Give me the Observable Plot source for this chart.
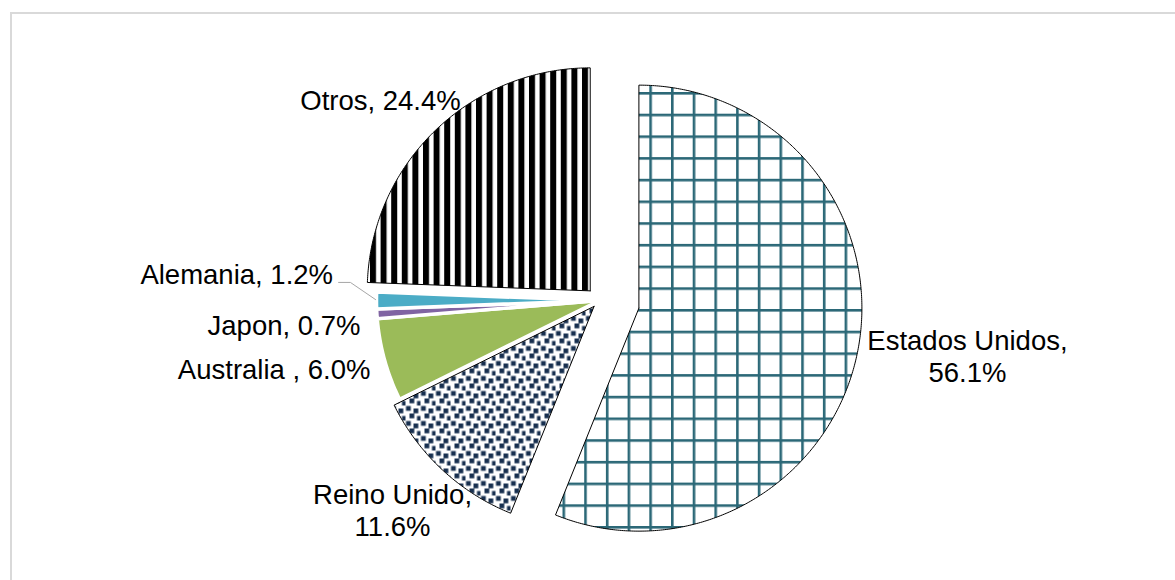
<!DOCTYPE html>
<html><head><meta charset="utf-8">
<script src="https://cdn.jsdelivr.net/npm/d3@7"></script>
<script src="https://cdn.jsdelivr.net/npm/@observablehq/plot@0.6"></script>
<style>
html,body{margin:0;padding:0;background:#fff;overflow:hidden}
#wrap{position:relative;width:1175px;height:580px}
#chart{position:absolute;left:0;top:0}
#frame{position:absolute;left:10px;top:12px;width:1220px;height:620px;border:2px solid #d9d9d9;box-sizing:border-box;pointer-events:none;z-index:2}
</style></head><body>
<div id="wrap"><div id="chart"></div><div id="frame"></div></div>
<script>
// ---- data ----
const countries = ["Estados Unidos", "Reino Unido", "Australia ", "Japon", "Alemania", "Otros"];
const shares = [56.1, 11.6, 6.0, 0.7, 1.2, 24.4];

// ---- layout / style (not data) ----
const CX = 599, CY = 300, R = 223;
const explode = [0.18, 0.036, 0, 0, 0, 0.06];
const fills = ["url(#usGrid)", "url(#ukConfetti)", "#9bbb59", "#8064a2", "#4bacc6", "url(#otrosStripes)"];
const strokes = ["#000", "#000", "#fff", "#fff", "#fff", "#000"];
const strokeWidths = [1, 1, 3.5, 3.5, 3.5, 1];
const multiLine = [true, true, false, false, false, false];
const labelX = [1.65, -0.928, -1.027, -1.072, -1.195, -0.982];
const labelY = [-0.248, -0.938, -0.304, -0.110, 0.119, 0.902];
const labelAnchor = ["middle", "middle", "end", "end", "end", "middle"];
const leader = [{x: -1.170, y: 0.081}, {x: -1.117, y: 0.081}, {x: -1.004, y: 0.004}];
const FS = 27.5;

const arcs = d3.pie().sort(null).value(d => d)(shares);
const slices = arcs.map((a, i) => {
  const mid = (a.startAngle + a.endAngle) / 2;
  const ox = explode[i] * Math.sin(mid), oy = explode[i] * Math.cos(mid);
  const pts = [{x: ox, y: oy}];
  const n = Math.max(2, Math.ceil((a.endAngle - a.startAngle) / (Math.PI / 360)));
  for (let k = 0; k <= n; k++) {
    const t = a.startAngle + (a.endAngle - a.startAngle) * k / n;
    pts.push({x: ox + Math.sin(t), y: oy + Math.cos(t)});
  }
  pts.push({x: ox, y: oy});
  return pts;
});

const labels = countries.map((c, i) => ({
  x: labelX[i], y: labelY[i], anchor: labelAnchor[i],
  text: c + (multiLine[i] ? ",\n" : ", ") + shares[i].toFixed(1) + "%"
}));

const drawOrder = [2, 3, 4, 1, 5, 0];
const marks = drawOrder.map(i => Plot.line(slices[i], {
  x: "x", y: "y", fill: fills[i], stroke: strokes[i], strokeWidth: strokeWidths[i],
  strokeLinejoin: "miter", strokeMiterlimit: 2, curve: "linear"
}));
marks.push(Plot.line(leader, {x: "x", y: "y", stroke: "#a6a6a6", strokeWidth: 1, curve: "linear"}));
marks.push(Plot.text(labels.filter(d => d.anchor === "middle"), {x: "x", y: "y", text: "text", textAnchor: "middle", fontSize: FS, lineHeight: 32 / FS, fill: "#000"}));
marks.push(Plot.text(labels.filter(d => d.anchor === "end"), {x: "x", y: "y", text: "text", textAnchor: "end", fontSize: FS, lineHeight: 32 / FS, fill: "#000"}));

const svg = Plot.plot({
  width: 1175, height: 580,
  marginTop: 0, marginRight: 0, marginBottom: 0, marginLeft: 0,
  x: {domain: [-1, 1], range: [CX - R, CX + R], axis: null},
  y: {domain: [-1, 1], range: [CY + R, CY - R], axis: null},
  style: {fontFamily: "'Liberation Sans', Arial, sans-serif", background: "transparent"},
  marks
});

const defs = d3.select(svg).insert("defs", ":first-child");
// grid pattern for Estados Unidos
const G = 21.7;
const pg = defs.append("pattern").attr("id", "usGrid").attr("patternUnits", "userSpaceOnUse")
  .attr("x", 648.8).attr("y", 91.5).attr("width", G).attr("height", G);
pg.append("rect").attr("width", G).attr("height", G).attr("fill", "#fff");
pg.append("rect").attr("width", 2.6).attr("height", G).attr("fill", "#2b6877");
pg.append("rect").attr("width", G).attr("height", 2.6).attr("fill", "#2b6877");
// confetti for Reino Unido
const T = 15;
const pc = defs.append("pattern").attr("id", "ukConfetti").attr("patternUnits", "userSpaceOnUse")
  .attr("x", 0).attr("y", 0).attr("width", T).attr("height", T);
pc.append("rect").attr("width", T).attr("height", T).attr("fill", "#fff");
[[0.5, 0.5], [8, 3], [4, 8], [11.5, 10.5]].forEach(([a, b]) =>
  pc.append("rect").attr("x", a).attr("y", b).attr("width", 4.8).attr("height", 4.8).attr("fill", "#172f4f"));
// vertical stripes for Otros
const S = 10.6;
const ps = defs.append("pattern").attr("id", "otrosStripes").attr("patternUnits", "userSpaceOnUse")
  .attr("x", 581.5).attr("y", 0).attr("width", S).attr("height", 20);
ps.append("rect").attr("width", S).attr("height", 20).attr("fill", "#fff");
ps.append("rect").attr("width", 6).attr("height", 20).attr("fill", "#000");

document.getElementById("chart").appendChild(svg);
</script>
</body></html>
